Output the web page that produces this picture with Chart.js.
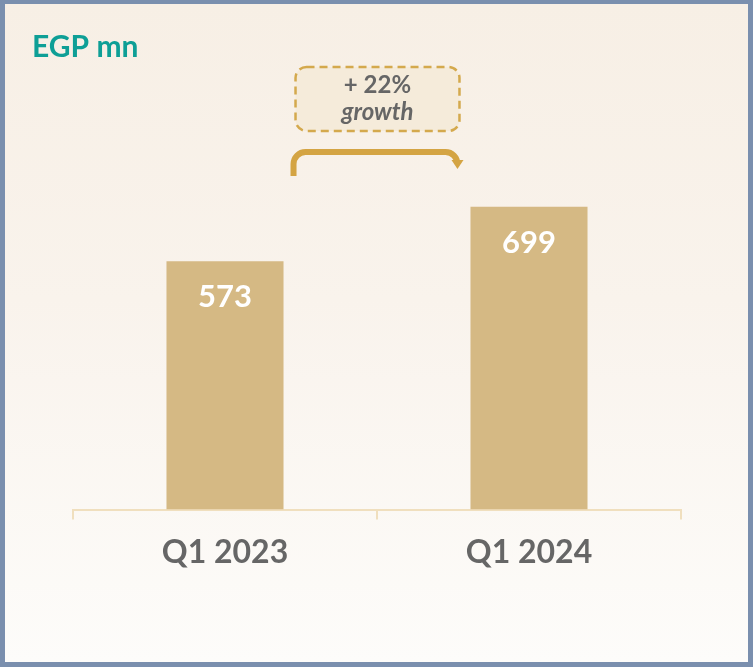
<!DOCTYPE html>
<html><head><meta charset="utf-8">
<script src="https://cdn.jsdelivr.net/npm/chart.js@4"></script>
<style>
html,body{margin:0;padding:0;}
#frame{position:absolute;left:0;top:0;width:753px;height:667px;box-sizing:border-box;
border-style:solid;border-color:#7A8FAE;border-width:4px 5px 5px 5px;
background:linear-gradient(to bottom,#F7EFE5 0%,#F9F3EC 45%,#FDFCFA 100%);}
#c{position:absolute;left:0;top:0;}
</style></head>
<body>
<div id="frame"></div>
<canvas id="c" width="753" height="667"></canvas>
<script>
const categories = ["Q1 2023", "Q1 2024"];
const revenue = [573, 699];
const title = "EGP mn";
const growthLines = ["+ 22%", "growth"];

const overlay = {
  id: 'overlay',
  afterDatasetsDraw(chart) {
    const ctx = chart.ctx;
    const meta = chart.getDatasetMeta(0);
    ctx.save();
    // title
    ctx.fillStyle = '#0E9F96';
    ctx.font = 'bold 30px Lato';
    ctx.textBaseline = 'middle';
    ctx.textAlign = 'left';
    ctx.fillText(title, 32, 47);
    // value labels
    ctx.fillStyle = '#FFFFFF';
    ctx.font = 'bold 31px Lato';
    ctx.textAlign = 'center';
    meta.data.forEach((bar, i) => {
      ctx.fillText(String(revenue[i]), bar.x, bar.y + 36);
    });
    // bracket arrow
    const b1 = meta.data[0], b2 = meta.data[1];
    const x1 = b1.x + b1.width / 2 + 10;
    const x2 = b2.x - b2.width / 2 - 13;
    const yTop = 152, yStart = 176, r = 12;
    ctx.strokeStyle = '#D4A443';
    ctx.lineWidth = 6;
    ctx.lineCap = 'butt';
    ctx.beginPath();
    ctx.moveTo(x1, yStart);
    ctx.lineTo(x1, yTop + r);
    ctx.arcTo(x1, yTop, x1 + r, yTop, r);
    ctx.lineTo(x2 - r, yTop);
    ctx.arcTo(x2, yTop, x2, yTop + r, r);
    ctx.lineTo(x2, yTop + 9);
    ctx.stroke();
    ctx.fillStyle = '#D4A443';
    ctx.beginPath();
    ctx.moveTo(x2 - 6, yTop + 8);
    ctx.lineTo(x2 + 6, yTop + 8);
    ctx.lineTo(x2, yTop + 17);
    ctx.closePath();
    ctx.fill();
    // dashed box
    const bx = x1 + 2, bw = x2 - x1, by = 67, bh = 64;
    ctx.beginPath();
    ctx.roundRect(bx, by, bw, bh, 11);
    ctx.fillStyle = '#F5EBDA';
    ctx.fill();
    ctx.setLineDash([8, 5]);
    ctx.lineWidth = 2.5;
    ctx.strokeStyle = '#D4A94D';
    ctx.stroke();
    ctx.setLineDash([]);
    ctx.fillStyle = '#666666';
    ctx.textAlign = 'center';
    ctx.font = 'bold 24px Lato';
    ctx.fillText(growthLines[0], bx + bw / 2, 85);
    ctx.font = 'italic bold 24px Lato';
    ctx.fillText(growthLines[1], bx + bw / 2, 112);
    ctx.restore();
  }
};

new Chart(document.getElementById('c'), {
  type: 'bar',
  data: {
    labels: categories,
    datasets: [{
      data: revenue,
      backgroundColor: '#D5B984',
      barPercentage: 0.77,
      categoryPercentage: 0.5
    }]
  },
  options: {
    responsive: false,
    animation: false,
    layout: { padding: { left: 73, right: 72, top: 163, bottom: 81 } },
    plugins: { legend: { display: false }, tooltip: { enabled: false } },
    scales: {
      y: { display: false, min: 0, max: 800 },
      x: {
        grid: { drawOnChartArea: false, drawTicks: true, tickLength: 10, color: '#F0DFBE', lineWidth: 2, offset: true },
        border: { color: '#F0DFBE', width: 2 },
        ticks: { color: '#666666', font: { family: 'Lato', size: 32, weight: 'bold' }, padding: 14 }
      }
    }
  },
  plugins: [overlay]
});
</script>
</body></html>
